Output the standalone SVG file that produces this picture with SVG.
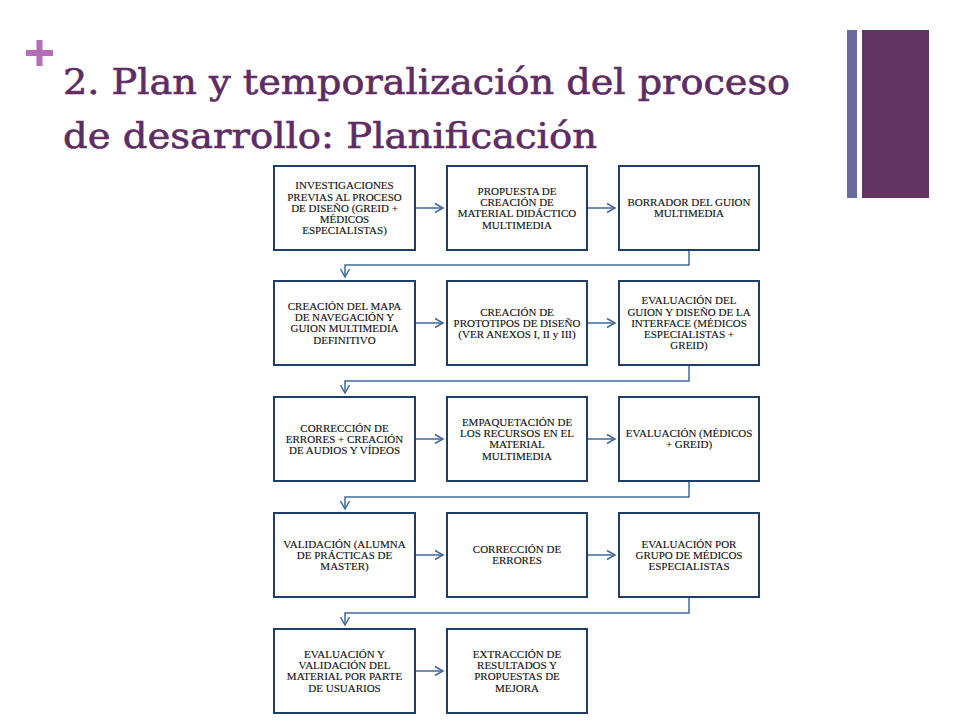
<svg xmlns="http://www.w3.org/2000/svg" width="960" height="720" viewBox="0 0 960 720">
  <defs>
    <marker id="arr" markerUnits="userSpaceOnUse" markerWidth="12" markerHeight="12" viewBox="0 0 12 12" refX="10" refY="6" orient="auto">
      <path d="M2,1.5 L10,6 L2,10.5" fill="none" stroke="#41699a" stroke-width="1.5"/>
    </marker>
    <style>
      .box { fill: #ffffff; stroke: #1f3d66; stroke-width: 2; }
      .lbl { font-family: "Liberation Serif", "Times New Roman", serif; font-size: 11px; fill: #111111; stroke: #111111; stroke-width: 0.12; text-anchor: middle; }
      .con { fill: none; stroke: #41699a; stroke-width: 1.5; marker-end: url(#arr); }
      .title { font-family: "DejaVu Serif", "Liberation Serif", serif; font-size: 36px; fill: #5e2c62; stroke: #5e2c62; stroke-width: 0.6; }
    </style>
  </defs>
  <rect width="960" height="720" fill="#ffffff"/>

  <g id="decor">
    <rect x="847" y="30" width="10" height="168" fill="#6a6a9c"/>
    <rect x="862" y="30" width="67" height="168" fill="#633462"/>
    <rect x="26" y="50" width="27" height="6" fill="#b46db8"/>
    <rect x="36.5" y="40" width="6" height="26" fill="#b46db8"/>
  </g>

  <g id="title">
    <text class="title" x="63" y="94" textLength="727" lengthAdjust="spacingAndGlyphs">2. Plan y temporalización del proceso</text>
    <text class="title" x="63" y="148" textLength="534" lengthAdjust="spacingAndGlyphs">de desarrollo: Planificación</text>
  </g>

  <g id="connectors">
    <line class="con" x1="415" y1="208" x2="443" y2="208"/>
    <line class="con" x1="587" y1="208" x2="615" y2="208"/>
    <polyline class="con" points="689,250 689,265 345,265 345,277"/>
    <line class="con" x1="415" y1="323" x2="443" y2="323"/>
    <line class="con" x1="587" y1="323" x2="615" y2="323"/>
    <polyline class="con" points="689,365 689,381 345,381 345,393"/>
    <line class="con" x1="415" y1="439" x2="443" y2="439"/>
    <line class="con" x1="587" y1="439" x2="615" y2="439"/>
    <polyline class="con" points="689,481 689,497 345,497 345,509"/>
    <line class="con" x1="415" y1="555" x2="443" y2="555"/>
    <line class="con" x1="587" y1="555" x2="615" y2="555"/>
    <polyline class="con" points="689,597 689,613 345,613 345,625"/>
    <line class="con" x1="415" y1="671" x2="443" y2="671"/>
  </g>

  <g id="n1">
    <rect class="box" x="274" y="166" width="141" height="84"/>
    <text class="lbl" x="344.5" y="189.3"><tspan x="344.5">INVESTIGACIONES</tspan><tspan x="344.5" dy="11.2">PREVIAS AL PROCESO</tspan><tspan x="344.5" dy="11.2">DE DISEÑO (GREID +</tspan><tspan x="344.5" dy="11.2">MÉDICOS</tspan><tspan x="344.5" dy="11.2">ESPECIALISTAS)</tspan></text>
  </g>
  <g id="n2">
    <rect class="box" x="447" y="166" width="140" height="84"/>
    <text class="lbl" x="517" y="194.9"><tspan x="517">PROPUESTA DE</tspan><tspan x="517" dy="11.2">CREACIÓN DE</tspan><tspan x="517" dy="11.2">MATERIAL DIDÁCTICO</tspan><tspan x="517" dy="11.2">MULTIMEDIA</tspan></text>
  </g>
  <g id="n3">
    <rect class="box" x="619" y="166" width="140" height="84"/>
    <text class="lbl" x="689" y="206.1"><tspan x="689">BORRADOR DEL GUION</tspan><tspan x="689" dy="11.2">MULTIMEDIA</tspan></text>
  </g>

  <g id="n4">
    <rect class="box" x="274" y="281" width="141" height="84"/>
    <text class="lbl" x="344.5" y="309.9"><tspan x="344.5">CREACIÓN DEL MAPA</tspan><tspan x="344.5" dy="11.2">DE NAVEGACIÓN Y</tspan><tspan x="344.5" dy="11.2">GUION MULTIMEDIA</tspan><tspan x="344.5" dy="11.2">DEFINITIVO</tspan></text>
  </g>
  <g id="n5">
    <rect class="box" x="447" y="281" width="140" height="84"/>
    <text class="lbl" x="517" y="315.5"><tspan x="517">CREACIÓN DE</tspan><tspan x="517" dy="11.2">PROTOTIPOS DE DISEÑO</tspan><tspan x="517" dy="11.2">(VER ANEXOS I, II y III)</tspan></text>
  </g>
  <g id="n6">
    <rect class="box" x="619" y="281" width="140" height="84"/>
    <text class="lbl" x="689" y="304.3"><tspan x="689">EVALUACIÓN DEL</tspan><tspan x="689" dy="11.2">GUION Y DISEÑO DE LA</tspan><tspan x="689" dy="11.2">INTERFACE (MÉDICOS</tspan><tspan x="689" dy="11.2">ESPECIALISTAS +</tspan><tspan x="689" dy="11.2">GREID)</tspan></text>
  </g>

  <g id="n7">
    <rect class="box" x="274" y="397" width="141" height="84"/>
    <text class="lbl" x="344.5" y="431.5"><tspan x="344.5">CORRECCIÓN DE</tspan><tspan x="344.5" dy="11.2">ERRORES + CREACIÓN</tspan><tspan x="344.5" dy="11.2">DE AUDIOS Y VÍDEOS</tspan></text>
  </g>
  <g id="n8">
    <rect class="box" x="447" y="397" width="140" height="84"/>
    <text class="lbl" x="517" y="425.9"><tspan x="517">EMPAQUETACIÓN DE</tspan><tspan x="517" dy="11.2">LOS RECURSOS EN EL</tspan><tspan x="517" dy="11.2">MATERIAL</tspan><tspan x="517" dy="11.2">MULTIMEDIA</tspan></text>
  </g>
  <g id="n9">
    <rect class="box" x="619" y="397" width="140" height="84"/>
    <text class="lbl" x="689" y="437.1"><tspan x="689">EVALUACIÓN (MÉDICOS</tspan><tspan x="689" dy="11.2">+ GREID)</tspan></text>
  </g>

  <g id="n10">
    <rect class="box" x="274" y="513" width="141" height="84"/>
    <text class="lbl" x="344.5" y="547.5"><tspan x="344.5">VALIDACIÓN (ALUMNA</tspan><tspan x="344.5" dy="11.2">DE PRÁCTICAS DE</tspan><tspan x="344.5" dy="11.2">MASTER)</tspan></text>
  </g>
  <g id="n11">
    <rect class="box" x="447" y="513" width="140" height="84"/>
    <text class="lbl" x="517" y="553.1"><tspan x="517">CORRECCIÓN DE</tspan><tspan x="517" dy="11.2">ERRORES</tspan></text>
  </g>
  <g id="n12">
    <rect class="box" x="619" y="513" width="140" height="84"/>
    <text class="lbl" x="689" y="547.5"><tspan x="689">EVALUACIÓN POR</tspan><tspan x="689" dy="11.2">GRUPO DE MÉDICOS</tspan><tspan x="689" dy="11.2">ESPECIALISTAS</tspan></text>
  </g>

  <g id="n13">
    <rect class="box" x="274" y="629" width="141" height="84"/>
    <text class="lbl" x="344.5" y="657.9"><tspan x="344.5">EVALUACIÓN Y</tspan><tspan x="344.5" dy="11.2">VALIDACIÓN DEL</tspan><tspan x="344.5" dy="11.2">MATERIAL POR PARTE</tspan><tspan x="344.5" dy="11.2">DE USUARIOS</tspan></text>
  </g>
  <g id="n14">
    <rect class="box" x="447" y="629" width="140" height="84"/>
    <text class="lbl" x="517" y="657.9"><tspan x="517">EXTRACCIÓN DE</tspan><tspan x="517" dy="11.2">RESULTADOS Y</tspan><tspan x="517" dy="11.2">PROPUESTAS DE</tspan><tspan x="517" dy="11.2">MEJORA</tspan></text>
  </g>
</svg>
